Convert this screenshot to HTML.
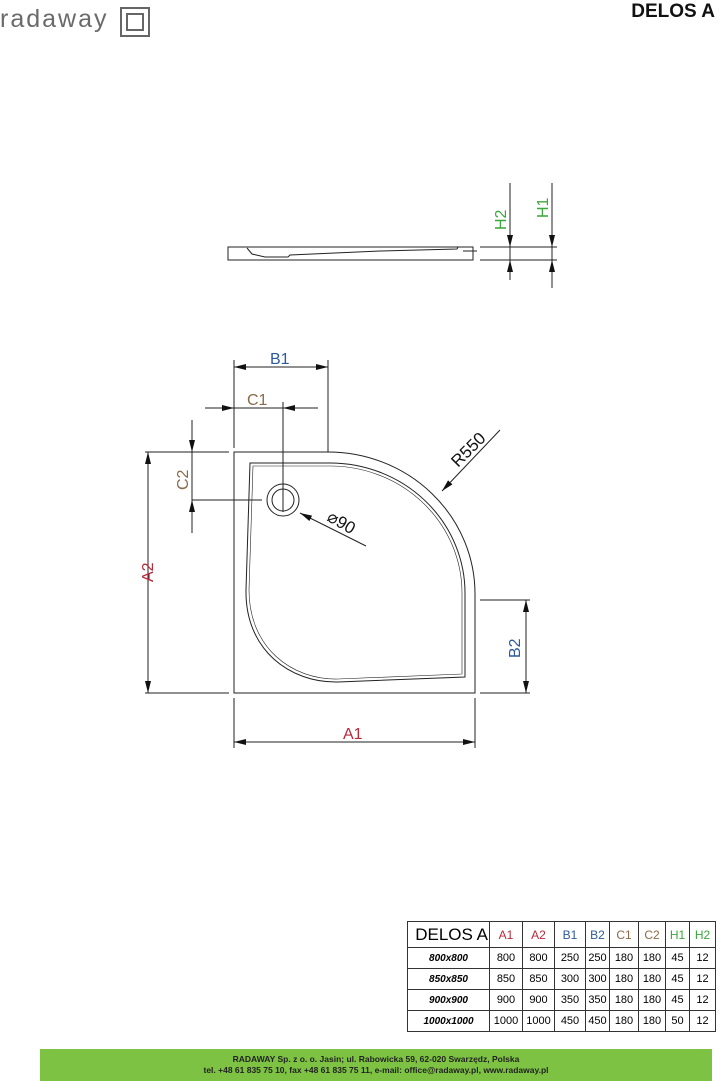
<!DOCTYPE html>
<html><head><meta charset="utf-8"><style>
body{margin:0;width:728px;height:1081px;background:#fff;position:relative;overflow:hidden;font-family:"Liberation Sans",sans-serif}
.t{position:absolute}
table{position:absolute;left:407px;top:921px;border-collapse:collapse;font-size:11px;table-layout:fixed;width:308px}
td{border:1.5px solid #333;text-align:center;padding:0;height:20px;white-space:nowrap;overflow:hidden}
</style></head><body>
<div class="t" style="left:0;top:5px;font-size:25px;color:#6a6a6a;letter-spacing:2px">radaway</div>
<div class="t" style="left:120px;top:7px;width:26px;height:26px;border:2px solid #666"></div>
<div class="t" style="left:126px;top:13px;width:14px;height:14px;border:2px solid #666"></div>
<div class="t" style="left:612px;top:1px;font-size:19px;font-weight:bold;color:#111;width:103px;text-align:right">DELOS A</div>
<svg class="t" style="left:0;top:0" width="728" height="1081" viewBox="0 0 728 1081">
<defs><marker id="a" markerWidth="12" markerHeight="6" refX="12" refY="3" orient="auto-start-reverse" markerUnits="userSpaceOnUse"><path d="M0,0L12,3L0,6z" fill="#111"/></marker></defs>
<g stroke="#222" stroke-width="1" fill="none">
<rect x="228" y="247" width="245" height="13"/>
<path d="M247,248 L252,254 L265,257 L288,257 L290,255 L380,251 L457,249 L458,247"/>
<path d="M480,247H557M480,260H557M463,251H477"/>
<path d="M510,183V278M552,183V288"/>
<path d="M234,452 H328 A147 142 0 0 1 475,594 V693 H234 Z"/>
<path d="M250,463 H330 A135 130 0 0 1 465,593 V677 L338,682 C290,683 245,650 246,590 Z"/>
<path d="M253,466 H330 A132 127 0 0 1 462,593 V674 L338,679 C292,680 249,648 249,590 Z" stroke-width=".6"/>
<circle cx="283" cy="500" r="16"/><circle cx="283" cy="500" r="11"/>
<path d="M283,402V512M262,500H192M192,420V533M145,452H229M145,693H229M234,360V448M328,360V452M205,408H318M234,698V748M475,698V748M480,600H530M480,693H530"/>
</g>
<g stroke="#222" stroke-width="1">
<line x1="510" y1="228" x2="510" y2="247" marker-end="url(#a)"/>
<line x1="510" y1="280" x2="510" y2="260" marker-end="url(#a)"/>
<line x1="552" y1="228" x2="552" y2="247" marker-end="url(#a)"/>
<line x1="552" y1="288" x2="552" y2="260" marker-end="url(#a)"/>
<line x1="234" y1="367" x2="328" y2="367" marker-start="url(#a)" marker-end="url(#a)"/>
<line x1="205" y1="408" x2="234" y2="408" marker-end="url(#a)"/>
<line x1="318" y1="408" x2="283" y2="408" marker-end="url(#a)"/>
<line x1="192" y1="425" x2="192" y2="452" marker-end="url(#a)"/>
<line x1="192" y1="530" x2="192" y2="500" marker-end="url(#a)"/>
<line x1="148" y1="452" x2="148" y2="693" marker-start="url(#a)" marker-end="url(#a)"/>
<line x1="526" y1="600" x2="526" y2="693" marker-start="url(#a)" marker-end="url(#a)"/>
<line x1="234" y1="742" x2="475" y2="742" marker-start="url(#a)" marker-end="url(#a)"/>
<line x1="500" y1="430" x2="442" y2="491" marker-end="url(#a)"/>
<line x1="366" y1="546" x2="300" y2="513" marker-end="url(#a)"/>
</g>
<g font-family="Liberation Sans,sans-serif" font-size="16">
<text x="270" y="364" fill="#2d5a9a">B1</text>
<text x="247" y="405" fill="#8a6a4a">C1</text>
<text x="343" y="739" fill="#b82a3a">A1</text>
<text transform="translate(188,490) rotate(-90)" fill="#8a6a4a">C2</text>
<text transform="translate(153,582) rotate(-90)" fill="#b82a3a">A2</text>
<text transform="translate(520,658) rotate(-90)" fill="#2d5a9a">B2</text>
<text transform="translate(506,230) rotate(-90)" fill="#3aa83a">H2</text>
<text transform="translate(548,218) rotate(-90)" fill="#3aa83a">H1</text>
<text transform="translate(458,468) rotate(-45)" fill="#111" font-size="17">R550</text>
<text transform="translate(326,520) rotate(30)" fill="#111" font-size="17">⌀90</text>
</g>
</svg>
<table>
<colgroup><col style="width:82px"><col style="width:33px"><col style="width:32px"><col style="width:31px"><col style="width:24px"><col style="width:29px"><col style="width:27px"><col style="width:24px"><col style="width:26px"></colgroup>
<tr style="height:26px"><td style="font-size:17px;text-align:right;padding-right:1px">DELOS A</td><td style="color:#b82a3a;font-size:12px">A1</td><td style="color:#b82a3a;font-size:12px">A2</td><td style="color:#2d5a9a;font-size:12px">B1</td><td style="color:#2d5a9a;font-size:12px">B2</td><td style="color:#8a6a4a;font-size:12px">C1</td><td style="color:#8a6a4a;font-size:12px">C2</td><td style="color:#3aa83a;font-size:12px">H1</td><td style="color:#3aa83a;font-size:12px">H2</td></tr>
<tr><td style="font-weight:bold;font-style:italic;font-size:10px">800x800</td><td>800</td><td>800</td><td>250</td><td>250</td><td>180</td><td>180</td><td>45</td><td>12</td></tr>
<tr><td style="font-weight:bold;font-style:italic;font-size:10px">850x850</td><td>850</td><td>850</td><td>300</td><td>300</td><td>180</td><td>180</td><td>45</td><td>12</td></tr>
<tr><td style="font-weight:bold;font-style:italic;font-size:10px">900x900</td><td>900</td><td>900</td><td>350</td><td>350</td><td>180</td><td>180</td><td>45</td><td>12</td></tr>
<tr><td style="font-weight:bold;font-style:italic;font-size:10px">1000x1000</td><td>1000</td><td>1000</td><td>450</td><td>450</td><td>180</td><td>180</td><td>50</td><td>12</td></tr>
</table>
<div class="t" style="left:40px;top:1049px;width:672px;height:32px;background:#7dc242;color:#222;font-size:8.5px;font-weight:bold;text-align:center;line-height:11px;padding-top:5px;box-sizing:border-box">RADAWAY Sp. z o. o. Jasin; ul. Rabowicka 59, 62-020 Swarzędz, Polska<br>tel. +48 61 835 75 10, fax +48 61 835 75 11, e-mail: office@radaway.pl, www.radaway.pl</div>
</body></html>
